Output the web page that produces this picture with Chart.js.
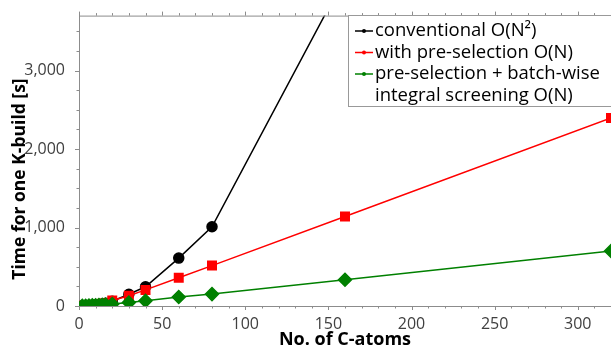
<!DOCTYPE html>
<html>
<head>
<meta charset="utf-8">
<script src="https://cdn.jsdelivr.net/npm/chart.js@4"></script>
<style>
  html, body { margin: 0; padding: 0; background: #fff; }
  #wrap { width: 611px; height: 352px; position: relative; }
</style>
</head>
<body>
<div id="wrap"><canvas id="c" width="611" height="352"></canvas></div>
<script>
// Number of carbon atoms in each test system
const atoms = [2, 4, 6, 8, 10, 12, 14, 16, 20, 30, 40, 60, 80, 160, 320];

// Time for one K-build [s]
const conventional = [1, 3, 6, 10, 14, 20, 27, 35, 60, 150, 245, 610, 1010, 4190, null];
const preSelection = [2, 5, 9, 13, 17, 22, 28, 35, 70, 130, 205, 360, 515, 1140, 2395];
const batchScreening = [2, 4, 6, 8, 10, 12, 15, 18, 25, 45, 66, 115, 152, 335, 700];

// Labelled axis ticks
const xTickValues = [0, 50, 100, 150, 200, 250, 300];
const yTickValues = [0, 1000, 2000, 3000];

const seriesLabels = [
  ['conventional O(N²)'],
  ['with pre-selection O(N)'],
  ['pre-selection + batch-wise', 'integral screening O(N)']
];
const seriesColors = ['#000000', '#ff0000', '#008000'];

const xTitle = 'No. of C-atoms';
const yTitle = 'Time for one K-build [s]';

const FONT = "'Open Sans', 'DejaVu Sans', sans-serif";
const AXIS_GRAY = '#8c8c8c';

function toPoints(ys) {
  return atoms.map((x, i) => ({ x: x, y: ys[i] }));
}

// Let the plot run all the way to the right edge of the canvas
const fullWidthArea = {
  id: 'fullWidthArea',
  afterLayout(chart) {
    const xs = chart.scales.x;
    const area = chart.chartArea;
    area.right = chart.width;
    area.width = area.right - area.left;
    xs.right = chart.width;
    xs.width = xs.right - xs.left;
    xs.configure();
    xs._labelItems = null;
    xs._gridLineItems = null;
  }
};

// Outward major/minor tick marks on bottom, top and left edges, plus top frame line
const frameTicks = {
  id: 'frameTicks',
  afterDraw(chart) {
    const { ctx, chartArea: a, scales } = chart;
    const xs = scales.x, ys = scales.y;
    ctx.save();
    ctx.strokeStyle = AXIS_GRAY;
    ctx.lineWidth = 1;
    ctx.beginPath();
    ctx.moveTo(a.left, a.top + 0.5);
    ctx.lineTo(a.right, a.top + 0.5);
    for (let v = 0; v <= xs.max; v += 10) {
      const px = Math.round(xs.getPixelForValue(v)) + 0.5;
      const len = v % 50 === 0 ? 4 : 2.5;
      ctx.moveTo(px, a.bottom);
      ctx.lineTo(px, a.bottom + len);
      ctx.moveTo(px, a.top);
      ctx.lineTo(px, a.top - len);
    }
    for (let v = 0; v <= ys.max; v += 250) {
      const py = Math.round(ys.getPixelForValue(v)) + 0.5;
      const len = v % 1000 === 0 ? 4 : 2.5;
      ctx.moveTo(a.left, py);
      ctx.lineTo(a.left - len, py);
    }
    ctx.stroke();
    ctx.restore();
  }
};

// Rotated y-axis title
const yTitlePlugin = {
  id: 'yTitlePlugin',
  afterDraw(chart) {
    const { ctx } = chart;
    ctx.save();
    ctx.translate(20, 179);
    ctx.rotate(-Math.PI / 2);
    ctx.font = 'bold 17.5px ' + FONT;
    ctx.fillStyle = '#000';
    ctx.textAlign = 'center';
    ctx.textBaseline = 'middle';
    ctx.fillText(yTitle, 0, 0);
    ctx.restore();
  }
};

// Boxed legend in the upper right corner
const boxLegend = {
  id: 'boxLegend',
  afterDraw(chart) {
    const { ctx } = chart;
    const left = 348.5, top = 15.5, right = chart.width + 2, bottom = 106.5;
    ctx.save();
    ctx.fillStyle = '#fff';
    ctx.fillRect(left, top, right - left, bottom - top);
    ctx.strokeStyle = '#999';
    ctx.lineWidth = 1;
    ctx.strokeRect(left, top, right - left, bottom - top);
    ctx.font = '18.5px ' + FONT;
    ctx.textBaseline = 'middle';
    ctx.textAlign = 'left';
    let y = 31;
    const lineStep = 21.5;
    seriesLabels.forEach((lines, i) => {
      const c = seriesColors[i];
      ctx.strokeStyle = c;
      ctx.fillStyle = c;
      ctx.lineWidth = 1.5;
      ctx.beginPath();
      ctx.moveTo(355, y);
      ctx.lineTo(373, y);
      ctx.stroke();
      ctx.beginPath();
      ctx.arc(364, y, 2, 0, Math.PI * 2);
      ctx.fill();
      ctx.fillStyle = '#000';
      lines.forEach((t, j) => {
        ctx.fillText(t, 375, y + j * lineStep);
      });
      y += lineStep * lines.length;
    });
    ctx.restore();
  }
};

new Chart(document.getElementById('c'), {
  type: 'line',
  data: {
    datasets: [
      {
        label: seriesLabels[0].join(' '),
        data: toPoints(conventional),
        borderColor: seriesColors[0],
        backgroundColor: seriesColors[0],
        borderWidth: 1.5,
        pointStyle: 'circle',
        pointRadius: 5,
        order: 3
      },
      {
        label: seriesLabels[1].join(' '),
        data: toPoints(preSelection),
        borderColor: seriesColors[1],
        backgroundColor: seriesColors[1],
        borderWidth: 1.5,
        pointStyle: 'rect',
        pointRadius: 6,
        order: 2
      },
      {
        label: seriesLabels[2].join(' '),
        data: toPoints(batchScreening),
        borderColor: seriesColors[2],
        backgroundColor: seriesColors[2],
        borderWidth: 1.5,
        pointStyle: 'rectRot',
        pointRadius: 6.5,
        order: 1
      }
    ]
  },
  options: {
    responsive: false,
    animation: false,
    devicePixelRatio: 1,
    layout: { padding: { top: 10, right: 0, left: 0, bottom: 0 } },
    plugins: {
      legend: { display: false },
      tooltip: { enabled: false }
    },
    elements: { line: { tension: 0 }, point: { borderWidth: 0 } },
    scales: {
      x: {
        type: 'linear',
        min: 0,
        max: 320,
        border: { display: true, color: AXIS_GRAY, width: 1 },
        grid: { display: false },
        ticks: {
          autoSkip: false,
          maxRotation: 0,
          padding: 1,
          color: '#404040',
          font: { family: FONT, size: 16 }
        },
        afterBuildTicks(scale) {
          scale.ticks = xTickValues.map(v => ({ value: v }));
        },
        title: {
          display: true,
          text: xTitle,
          color: '#000',
          font: { family: FONT, size: 18, weight: 'bold' },
          padding: { top: 0, bottom: 1 }
        },
        afterFit(scale) {
          scale.height = 46;
        }
      },
      y: {
        type: 'linear',
        min: 0,
        max: 3700,
        border: { display: true, color: AXIS_GRAY, width: 1 },
        grid: { display: false },
        ticks: {
          autoSkip: false,
          padding: 6,
          color: '#404040',
          font: { family: FONT, size: 16 },
          callback: v => v.toLocaleString('en-US')
        },
        afterBuildTicks(scale) {
          scale.ticks = yTickValues.map(v => ({ value: v }));
        },
        afterFit(scale) {
          scale.width = 79;
        }
      }
    }
  },
  plugins: [fullWidthArea, frameTicks, yTitlePlugin, boxLegend]
});
</script>
</body>
</html>
